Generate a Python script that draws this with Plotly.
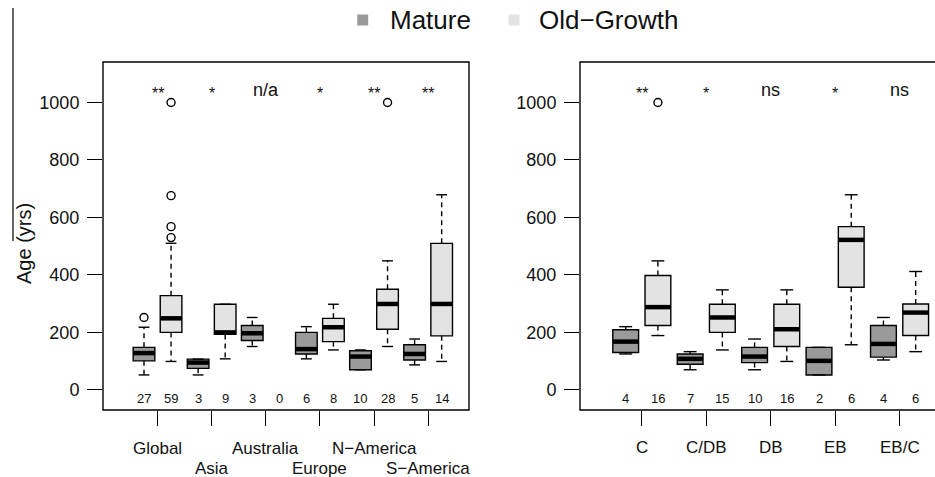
import plotly.graph_objects as go

# ---------------- data ----------------
left_groups = ["Global", "Asia", "Australia", "Europe", "N\u2212America", "S\u2212America"]
left_sig = ["**", "*", "n/a", "*", "**", "**"]

left_mat_lo = [52, 52, 151, 108, 70, 87]
left_mat_q1 = [101, 75, 172, 125, 70, 104]
left_mat_med = [128, 95, 197, 142, 116, 125]
left_mat_q3 = [148, 107, 224, 200, 136, 157]
left_mat_hi = [218, 107, 252, 220, 139, 177]
left_mat_out = [[252], [], [], [], [], []]
left_mat_n = [27, 3, 3, 6, 10, 5]

left_old_lo = [99, 108, None, 139, 151, 99]
left_old_q1 = [200, 193, None, 168, 211, 188]
left_old_med = [249, 200, None, 218, 299, 299]
left_old_q3 = [328, 298, None, 249, 350, 510]
left_old_hi = [510, 298, None, 298, 449, 679]
left_old_out = [[530, 568, 676, 1000], [], [], [], [1000], []]
left_old_n = [59, 9, 0, 8, 28, 14]

right_groups = ["C", "C/DB", "DB", "EB", "EB/C"]
right_sig = ["**", "*", "ns", "*", "ns"]

right_mat_lo = [125, 70, 70, 52, 104]
right_mat_q1 = [130, 89, 95, 52, 114]
right_mat_med = [168, 108, 116, 101, 160]
right_mat_q3 = [209, 125, 148, 148, 224]
right_mat_hi = [220, 133, 177, 148, 252]
right_mat_out = [[], [], [], [], []]
right_mat_n = [4, 7, 10, 2, 4]

right_old_lo = [189, 139, 99, 157, 133]
right_old_q1 = [224, 200, 151, 357, 189]
right_old_med = [288, 252, 211, 522, 269]
right_old_q3 = [398, 298, 298, 568, 299]
right_old_hi = [449, 348, 348, 679, 412]
right_old_out = [[1000], [], [], [], []]
right_old_n = [16, 15, 16, 6, 6]

series_names = ["Mature", "Old\u2212Growth"]
y_ticks = [0, 200, 400, 600, 800, 1000]

# ---------------- style ----------------
W, H = 935, 477
FONT = "Liberation Sans, Arial, Helvetica, sans-serif"
MAT_FILL = "#9a9a9a"
OLD_FILL = "#e3e3e3"
BOX_W = 0.8
CAP_W = 0.4
LW = 1.4


def px(x):
    return x / W


def py(y):
    return 1 - y / H


fig = go.Figure()


def add_panel(xa, ya, groups, sig, mat, old):
    boxes = [(mat, MAT_FILL, 1), (old, OLD_FILL, 2)]
    wx, wy, cx, cy, mx, my, ox, oy = [], [], [], [], [], [], [], []
    for (lo, q1, med, q3, hi, outs, ns), fill, off in boxes:
        xs, bq1, bmed, bq3 = [], [], [], []
        for i in range(len(groups)):
            pos = 2 * i + off
            if med[i] is not None:
                xs.append(pos)
                bq1.append(q1[i])
                bmed.append(med[i])
                bq3.append(q3[i])
                if hi[i] > q3[i]:
                    wx += [pos, pos, None]
                    wy += [q3[i], hi[i], None]
                if lo[i] < q1[i]:
                    wx += [pos, pos, None]
                    wy += [q1[i], lo[i], None]
                cx += [pos - CAP_W / 2, pos + CAP_W / 2, None, pos - CAP_W / 2, pos + CAP_W / 2, None]
                cy += [hi[i], hi[i], None, lo[i], lo[i], None]
                mx += [pos - BOX_W / 2, pos + BOX_W / 2, None]
                my += [med[i], med[i], None]
            for o in outs[i]:
                ox.append(pos)
                oy.append(o)
            fig.add_annotation(x=pos, y=-29, xref=xa, yref=ya, text=str(ns[i]),
                               showarrow=False, font=dict(family=FONT, size=13, color="#111"),
                               xanchor="center", yanchor="middle")
        fig.add_trace(go.Box(x=xs, q1=bq1, median=bmed, q3=bq3, lowerfence=bq1, upperfence=bq3,
                             width=BOX_W, fillcolor=fill, line=dict(color="black", width=LW),
                             boxpoints=False, showlegend=False, xaxis=xa, yaxis=ya, hoverinfo="skip"))
    fig.add_trace(go.Scatter(x=wx, y=wy, mode="lines", line=dict(color="black", width=LW, dash="5px,4px"),
                             showlegend=False, xaxis=xa, yaxis=ya, hoverinfo="skip"))
    fig.add_trace(go.Scatter(x=cx, y=cy, mode="lines", line=dict(color="black", width=LW),
                             showlegend=False, xaxis=xa, yaxis=ya, hoverinfo="skip"))
    fig.add_trace(go.Scatter(x=mx, y=my, mode="lines", line=dict(color="black", width=4.5),
                             showlegend=False, xaxis=xa, yaxis=ya, hoverinfo="skip"))
    fig.add_trace(go.Scatter(x=ox, y=oy, mode="markers",
                             marker=dict(symbol="circle-open", size=8, color="black", line=dict(width=1.4)),
                             showlegend=False, xaxis=xa, yaxis=ya, hoverinfo="skip"))
    for i, s in enumerate(sig):
        is_star = s.startswith("*")
        fig.add_annotation(x=2 * i + 1.5, y=1045, xref=xa, yref=ya, text=s, showarrow=False,
                           font=dict(family=FONT, size=16 if is_star else 18, color="#111"),
                           xanchor="center", yanchor="middle", yshift=-4 if is_star else 0)


add_panel("x", "y", left_groups, left_sig,
          (left_mat_lo, left_mat_q1, left_mat_med, left_mat_q3, left_mat_hi, left_mat_out, left_mat_n),
          (left_old_lo, left_old_q1, left_old_med, left_old_q3, left_old_hi, left_old_out, left_old_n))
add_panel("x2", "y2", right_groups, right_sig,
          (right_mat_lo, right_mat_q1, right_mat_med, right_mat_q3, right_mat_hi, right_mat_out, right_mat_n),
          (right_old_lo, right_old_q1, right_old_med, right_old_q3, right_old_hi, right_old_out, right_old_n))

ydom = [py(410), py(62)]
axis_common = dict(showgrid=False, zeroline=False, showline=False, ticks="outside",
                   ticklen=15, tickwidth=LW, tickcolor="black",
                   tickfont=dict(family=FONT, size=18, color="#111"))

fig.update_layout(
    width=W, height=H, margin=dict(l=0, r=0, t=0, b=0),
    paper_bgcolor="white", plot_bgcolor="white", boxmode="overlay",
    xaxis=dict(domain=[px(103), px(469)], range=[-0.515, 13.01],
               tickvals=[2 * i + 1.5 for i in range(len(left_groups))],
               showticklabels=False, **axis_common),
    yaxis=dict(domain=ydom, range=[-70, 1141], tickvals=y_ticks, ticklabelstandoff=4, **axis_common),
    xaxis2=dict(domain=[px(580), 1.0], range=[-0.418, 10.6], anchor="y2",
                tickvals=[2 * i + 1.5 for i in range(len(right_groups))],
                showticklabels=False, **axis_common),
    yaxis2=dict(domain=ydom, range=[-70, 1141], tickvals=y_ticks, anchor="x2",
                ticklabelstandoff=4, **axis_common),
)

# frames
fig.add_shape(type="rect", xref="x domain", yref="y domain", x0=0, x1=1, y0=0, y1=1,
              line=dict(color="black", width=LW), layer="above")
fig.add_shape(type="rect", xref="x2 domain", yref="y2 domain", x0=0, x1=1.1, y0=0, y1=1,
              line=dict(color="black", width=LW), layer="above")
# cropped-border artifact at the far left
fig.add_shape(type="line", xref="paper", yref="paper", x0=px(13), x1=px(13), y0=py(8), y1=py(241),
              line=dict(color="black", width=1.2))

# x category labels
for i, g in enumerate(left_groups):
    row_y = 448 if i % 2 == 0 else 468
    fig.add_annotation(x=2 * i + 1.5, xref="x", y=py(row_y), yref="paper", text=g, showarrow=False,
                       font=dict(family=FONT, size=17, color="#111"), xanchor="center", yanchor="middle")
for i, g in enumerate(right_groups):
    fig.add_annotation(x=2 * i + 1.5, xref="x2", y=py(447), yref="paper", text=g, showarrow=False,
                       font=dict(family=FONT, size=17, color="#111"), xanchor="center", yanchor="middle")

# y axis title
fig.add_annotation(x=px(24), y=py(244), xref="paper", yref="paper", text="Age (yrs)", textangle=-90,
                   showarrow=False, font=dict(family=FONT, size=20, color="#111"),
                   xanchor="center", yanchor="middle")

# legend
for name, fill, sx, tx in [(series_names[0], MAT_FILL, 362.7, 388), (series_names[1], OLD_FILL, 514, 537)]:
    fig.add_shape(type="rect", xref="paper", yref="paper", x0=px(sx - 5.5), x1=px(sx + 5.5),
                  y0=py(25.5), y1=py(14.5), fillcolor=fill, line=dict(width=0))
    fig.add_annotation(x=px(tx), y=py(20), xref="paper", yref="paper", text=name, showarrow=False,
                       font=dict(family=FONT, size=26, color="#111"), xanchor="left", yanchor="middle")

fig.write_html("out.html", config={"displayModeBar": False},
               post_script="document.body.style.margin='0px';")
